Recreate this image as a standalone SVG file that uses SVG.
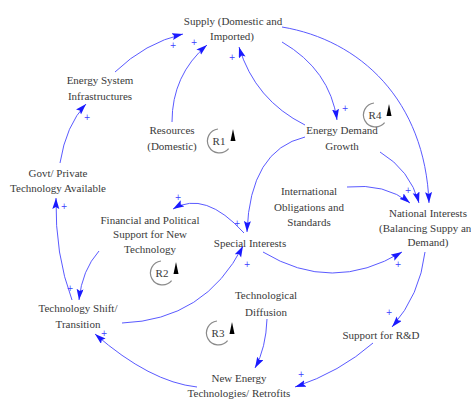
<svg xmlns="http://www.w3.org/2000/svg" width="471" height="403" viewBox="0 0 471 403">
<style>
.n text{font-family:"Liberation Serif","Times New Roman",serif;font-size:11px;fill:#3a3a3a;text-anchor:middle}
.c path{fill:none;stroke:#5a5aff;stroke-width:1;marker-end:url(#ah)}
.p{font-family:"DejaVu Sans",sans-serif;font-size:8px;fill:#3c3cff;text-anchor:middle}
.loop path{fill:none;stroke:#8a8a8a;stroke-width:1.2}
.loop polygon{fill:#000}
.loop text{font-family:"Liberation Serif","Times New Roman",serif;font-size:11px;fill:#3a3a3a;text-anchor:middle}
</style>
<defs>
<marker id="ah" markerUnits="userSpaceOnUse" markerWidth="12" markerHeight="8" refX="11" refY="3.5" orient="auto">
<path d="M0,0 L11,3.5 L0,7 L2,3.5 z" fill="#1a1aff"/>
</marker>
</defs>
<rect width="471" height="403" fill="#fff"/>
<g id="connectors" class="c">
<path d="M115,72 Q145,43 183,34"/>
<path d="M172,122 Q172,75 207,45"/>
<path d="M60,163 Q66,125 86,104"/>
<path d="M282,42 Q330,70 337,120"/>
<path d="M305,125 Q255,100 239,47"/>
<path d="M282,27 C360,40 425,100 429,203"/>
<path d="M380,152 Q410,170 419,203"/>
<path d="M347,187 Q385,183 410,203"/>
<path d="M305,137 Q250,150 247,232"/>
<path d="M244,233 Q205,190 173,209"/>
<path d="M263,252 Q332,294 402,252"/>
<path d="M425,252 Q420,295 392,327"/>
<path d="M373,343 Q340,372 295,387"/>
<path d="M267,319 Q266,348 255,368"/>
<path d="M197,387 Q150,382 95,334"/>
<path d="M99,251 Q82,270 79,300"/>
<path d="M72,300 Q55,255 56,198"/>
<path d="M122,323 Q205,320 243,246"/>
</g>
<g id="polarities">
<text class="p" x="173" y="48">+</text>
<text class="p" x="194" y="45">+</text>
<text class="p" x="87" y="120">+</text>
<text class="p" x="345" y="111">+</text>
<text class="p" x="232" y="60">+</text>
<text class="p" x="408" y="193">+</text>
<text class="p" x="237" y="226">+</text>
<text class="p" x="178" y="200">+</text>
<text class="p" x="247" y="267">+</text>
<text class="p" x="398" y="267">+</text>
<text class="p" x="389" y="315">+</text>
<text class="p" x="301" y="377">+</text>
<text class="p" x="104" y="336">+</text>
<text class="p" x="64" y="209">+</text>
<text class="p" x="70" y="291">+</text>
</g>
<g id="supply" class="n"><text x="233" y="25">Supply (Domestic and</text><text x="232" y="40">Imported)</text></g>
<g id="energy-system" class="n"><text x="100" y="84">Energy System</text><text x="100" y="100">Infrastructures</text></g>
<g id="resources" class="n"><text x="172" y="134">Resources</text><text x="172" y="150">(Domestic)</text></g>
<g id="govt-private" class="n"><text x="58" y="177">Govt/ Private</text><text x="58" y="192">Technology Available</text></g>
<g id="energy-demand" class="n"><text x="342" y="134">Energy Demand</text><text x="342" y="150">Growth</text></g>
<g id="international" class="n"><text x="309" y="195">International</text><text x="309" y="211">Obligations and</text><text x="309" y="226">Standards</text></g>
<g id="national-interests" class="n"><text x="428" y="217">National Interests</text><text x="428" y="232">(Balancing Suppy and</text><text x="428" y="246">Demand)</text></g>
<g id="financial" class="n"><text x="150" y="224">Financial and Political</text><text x="150" y="238">Support for New</text><text x="150" y="253">Technology</text></g>
<g id="special-interests" class="n"><text x="250" y="247">Special Interests</text></g>
<g id="technology-shift" class="n"><text x="78" y="312">Technology Shift/</text><text x="78" y="328">Transition</text></g>
<g id="tech-diffusion" class="n"><text x="266" y="299">Technological</text><text x="266" y="316">Diffusion</text></g>
<g id="support-rd" class="n"><text x="381" y="339">Support for R&amp;D</text></g>
<g id="new-energy" class="n"><text x="239" y="382">New Energy</text><text x="239" y="397">Technologies/ Retrofits</text></g>
<g id="loop-r1" class="loop">
<path d="M218,129 A12,12 0 1 0 228.6,148.7"/>
<polygon points="233,129 230.5,141 235.5,141"/>
<text x="219" y="145">R1</text>
</g>
<g id="loop-r4" class="loop">
<path d="M374,103 A12,12 0 1 0 384.6,122.7"/>
<polygon points="389,104 386.5,116 391.5,116"/>
<text x="375" y="119">R4</text>
</g>
<g id="loop-r2" class="loop">
<path d="M161,261 A12,12 0 1 0 171.6,280.7"/>
<polygon points="176,262 173.5,274 178.5,274"/>
<text x="162" y="277">R2</text>
</g>
<g id="loop-r3" class="loop">
<path d="M217,321 A12,12 0 1 0 227.6,340.7"/>
<polygon points="232,322 229.5,334 234.5,334"/>
<text x="218" y="337">R3</text>
</g>
</svg>
